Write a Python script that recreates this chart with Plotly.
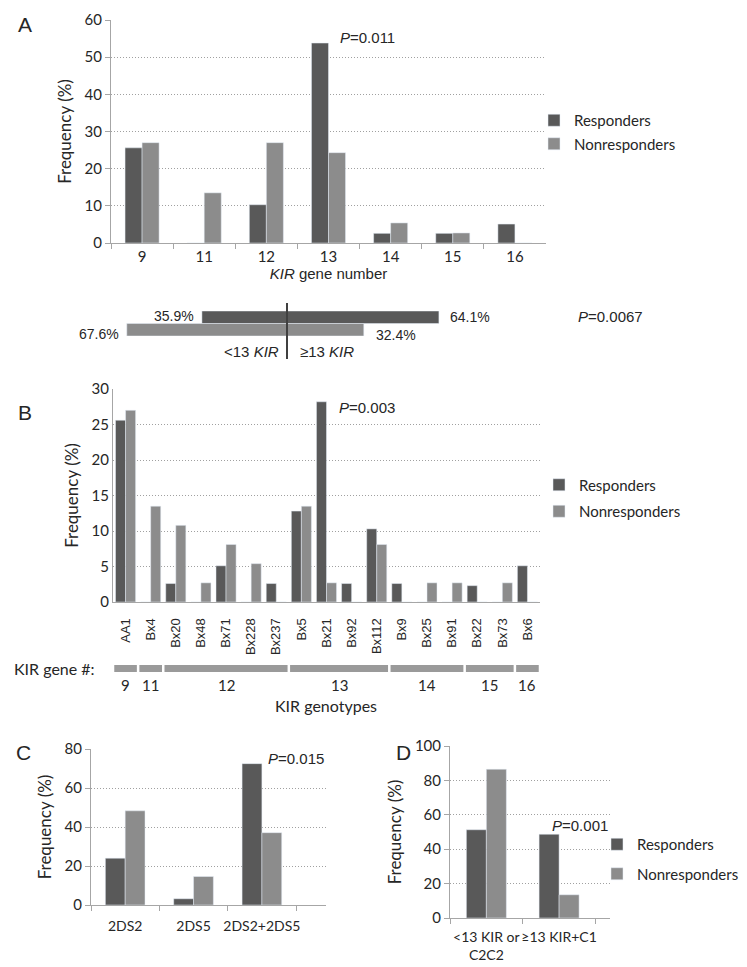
import plotly.graph_objects as go

W, H = 747, 967
def px(x): return x / W
def py(y): return 1 - y / H

# ---------------- data ----------------
# Panel A
gene_numbers = ["9", "11", "12", "13", "14", "15", "16"]
a_responders = [25.6, 0, 10.3, 53.8, 2.6, 2.6, 5.1]
a_nonresponders = [27.0, 13.5, 27.0, 24.3, 5.4, 2.7, 0]

# Split bar (<13 vs >=13 KIR); rows: index 0 = Nonresponders, 1 = Responders
split_rows = ["Nonresponders", "Responders"]
split_below = [67.6, 35.9]
split_above = [32.4, 64.1]

# Panel B
genotypes = ["AA1", "Bx4", "Bx20", "Bx48", "Bx71", "Bx228", "Bx237", "Bx5", "Bx21",
             "Bx92", "Bx112", "Bx9", "Bx25", "Bx91", "Bx22", "Bx73", "Bx6"]
b_responders = [25.6, 0, 2.6, 0, 5.1, 0, 2.6, 12.8, 28.2, 2.6, 10.3, 2.6, 0, 0, 2.3, 0, 5.1]
b_nonresponders = [27.0, 13.5, 10.8, 2.7, 8.1, 5.4, 0, 13.5, 2.7, 0, 8.1, 0, 2.7, 2.7, 0, 2.7, 0]
gene_groups = ["9", "11", "12", "13", "14", "15", "16"]
group_sizes = [1, 1, 5, 4, 3, 2, 1]

# Panel C
c_categories = ["2DS2", "2DS5", "2DS2+2DS5"]
c_responders = [24.0, 3.2, 72.5]
c_nonresponders = [48.3, 14.6, 37.1]

# Panel D
d_categories = ["<13 KIR or<br>C2C2", "≥13 KIR+C1"]
d_responders = [51.3, 48.7]
d_nonresponders = [86.5, 13.5]

# ---------------- styles ----------------
RC = "#595959"
NC = "#8c8c8c"
AXC = "#a6a6a6"
TXT = "#262626"
CAL = "Lato, Carlito, sans-serif"
ARI = "Liberation Sans, Arial, sans-serif"

fig = go.Figure()

def pair(xcats, r, n, xa, ya, w, legend=None, grp=""):
    show = legend is not None
    fig.add_trace(go.Bar(x=xcats, y=r, name="Responders", marker_color=RC,
                         width=w, offset=-w, xaxis=xa, yaxis=ya,
                         showlegend=show, legend=legend or "legend",
                         legendgroup=grp + "r"))
    fig.add_trace(go.Bar(x=xcats, y=n, name="Nonresponders", marker_color=NC,
                         width=w, offset=0, xaxis=xa, yaxis=ya,
                         showlegend=show, legend=legend or "legend",
                         legendgroup=grp + "n"))

pair(gene_numbers, a_responders, a_nonresponders, "x", "y", 0.274, "legend", "a")
pair(genotypes, b_responders, b_nonresponders, "x3", "y3", 0.40, "legend2", "b")
pair(c_categories, c_responders, c_nonresponders, "x4", "y4", 0.29, None, "c")
pair(d_categories, d_responders, d_nonresponders, "x5", "y5", 0.275, "legend3", "d")

# split bars
for i, col in [(1, RC), (0, NC)]:
    fig.add_trace(go.Bar(y=[i], x=[split_below[i] + split_above[i]], base=[-split_below[i]],
                         orientation="h", width=1, marker_color=col,
                         xaxis="x2", yaxis="y2", showlegend=False, name=split_rows[i]))

def yax(d0, d1, rng, dtick, ticks="outside", standoff=8):
    return dict(domain=[py(d0), py(d1)], range=rng, dtick=dtick, showgrid=True,
                gridcolor="#a0a0a0", griddash="1px,2px", gridwidth=1, zeroline=False,
                showline=True, linecolor=AXC, linewidth=1, ticks=ticks, ticklen=5,
                tickcolor=AXC, tickfont=dict(family=CAL, size=15, color=TXT),
                automargin=False,
                title=dict(text="Frequency (%)", font=dict(family=CAL, size=17, color=TXT),
                           standoff=standoff))

def xax(d0, d1, yanchor, **kw):
    base = dict(domain=[px(d0), px(d1)], anchor=yanchor, type="category", showgrid=False,
                zeroline=False, showline=True, linecolor=AXC, linewidth=1,
                tickcolor=AXC, tickfont=dict(family=CAL, size=15, color=TXT), automargin=False)
    base.update(kw)
    return base

fig.update_layout(
    width=W, height=H, margin=dict(l=0, r=0, t=0, b=0),
    plot_bgcolor="white", paper_bgcolor="white", barmode="overlay",
    xaxis=xax(103, 538, "y", tickson="boundaries", ticks="outside", ticklen=5, tickangle=0,
              title=dict(text="<i>KIR</i> gene number", font=dict(family=ARI, size=15, color=TXT),
                         standoff=4)),
    yaxis=yax(235, 12, [0, 60], 10),
    xaxis2=dict(domain=[px(279 - 2.37 * 70), px(279 + 2.37 * 70)], range=[-70, 70],
                anchor="y2", visible=False),
    yaxis2=dict(domain=[py(328), py(303)], range=[-0.5, 1.5], anchor="x2", visible=False),
    xaxis3=xax(105, 532, "y3", tickangle=-90, ticks="outside", ticklen=10,
               tickcolor="rgba(0,0,0,0)", tickfont=dict(family=ARI, size=13, color=TXT)),
    yaxis3=yax(594, 381, [0, 30], 5, ticks=""),
    xaxis4=xax(83, 318, "y4", tickson="boundaries", ticks="outside", ticklen=5, tickangle=0,
               ticklabelstandoff=8, tickfont=dict(family=CAL, size=14, color=TXT)),
    yaxis4=yax(897, 741, [0, 80], 20),
    xaxis5=xax(442, 602, "y5", tickson="boundaries", ticks="outside", ticklen=5, tickangle=0,
               ticklabelstandoff=6, tickfont=dict(family=CAL, size=14, color=TXT)),
    yaxis5=yax(910, 738, [0, 100], 20),
    legend=dict(x=px(526), y=py(124), xanchor="left", yanchor="middle",
                font=dict(family=CAL, size=15, color=TXT), tracegroupgap=1,
                bgcolor="rgba(0,0,0,0)"),
    legend2=dict(x=px(531), y=py(490), xanchor="left", yanchor="middle",
                 font=dict(family=CAL, size=15, color=TXT), tracegroupgap=4,
                 bgcolor="rgba(0,0,0,0)"),
    legend3=dict(x=px(589), y=py(851), xanchor="left", yanchor="middle",
                 font=dict(family=CAL, size=15, color=TXT), tracegroupgap=7,
                 bgcolor="rgba(0,0,0,0)"),
)
fig.update_layout(yaxis_anchor="x", yaxis3_anchor="x3", yaxis4_anchor="x4", yaxis5_anchor="x5")

ann = []
def A(text, x, y, xref="paper", yref="paper", xanchor="center", yanchor="middle",
      family=ARI, size=15, **kw):
    ann.append(dict(text=text, x=x, y=y, xref=xref, yref=yref, xanchor=xanchor,
                    yanchor=yanchor, showarrow=False,
                    font=dict(family=family, size=size, color=TXT), **kw))

# panel letters
A("A", px(8), py(16), xanchor="left", size=21)
A("B", px(8), py(404), xanchor="left", size=21)
A("C", px(6), py(744), xanchor="left", size=21)
A("D", px(386), py(744), xanchor="left", size=21)

# P values
A("<i>P</i>=0.011", 3.16, 55.4, xref="x", yref="y", xanchor="left")
A("<i>P</i>=0.003", 8.42, 27.4, xref="x3", yref="y3", xanchor="left")
A("<i>P</i>=0.015", 2.06, 75, xref="x4", yref="y4", xanchor="left")
A("<i>P</i>=0.001", 0.875, 53.5, xref="x5", yref="y5", xanchor="left")
A("<i>P</i>=0.0067", px(637), py(308), xanchor="right")

# split bar labels
A(f"{split_below[1]}%", -split_below[1], 1, xref="x2", yref="y2", xanchor="right",
  xshift=-6, yshift=1, size=14)
A(f"{split_above[1]}%", split_above[1], 1, xref="x2", yref="y2", xanchor="left",
  xshift=9, size=14)
A(f"{split_below[0]}%", -split_below[0], 0, xref="x2", yref="y2", xanchor="right",
  xshift=-6, yshift=-4, size=14)
A(f"{split_above[0]}%", split_above[0], 0, xref="x2", yref="y2", xanchor="left",
  xshift=10, yshift=-5, size=14)
A("<13 <i>KIR</i>", 0, py(343), xref="x2", xanchor="right", xshift=-6)
A("≥13 <i>KIR</i>", 0, py(343), xref="x2", xanchor="left", xshift=11)

# gene-number segments under panel B
start = 0
for g, s in zip(gene_groups, group_sizes):
    x0 = start - 0.5
    x1 = x0 + s
    fig.add_shape(type="rect", xref="x3", yref="paper", x0=x0 + 0.05, x1=x1 - 0.05,
                  y0=py(664), y1=py(657), fillcolor="#9a9a9a", line=dict(width=0))
    A(g, (x0 + x1) / 2, py(677), xref="x3", family=CAL, size=15)
    start += s
A("KIR gene #:", px(4), py(660), xanchor="left", family=CAL, size=16)
A("KIR genotypes", px(318), py(697), family=CAL, size=16)

fig.add_shape(type="line", xref="x2", yref="paper", x0=0, x1=0, y0=py(351), y1=py(295),
              line=dict(color="#404040", width=2))

fig.update_layout(annotations=ann)
fig.write_html("out.html")
